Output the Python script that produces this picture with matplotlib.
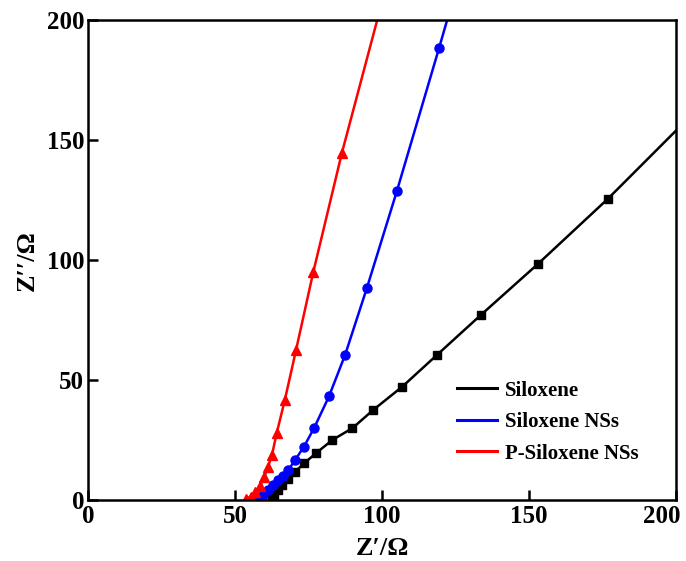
import numpy as np
import matplotlib.pyplot as plt
import matplotlib.transforms as mtransforms

plt.rcParams['font.family'] = ['Liberation Serif', 'DejaVu Serif']
plt.rcParams['font.weight'] = 'bold'

# Nyquist data (Z' vs Z'') for the three samples
silox_x = [62.5, 63.3, 64.5, 65.8, 67.9, 70.4, 73.5, 77.5, 83.1, 89.9, 97.0,
           106.9, 118.7, 133.7, 153.0, 176.8, 205.0]
silox_y = [0.6, 2.3, 4.4, 6.5, 9.0, 12.0, 15.5, 19.7, 25.2, 30.1, 37.7,
           47.4, 60.6, 77.3, 98.4, 125.5, 160.0]

ns_x = [58.1, 59.6, 61.3, 63.0, 64.6, 66.3, 68.1, 70.4, 73.4, 76.9, 81.9,
        87.4, 94.8, 105.0, 119.4, 124.5]
ns_y = [0.6, 2.3, 4.4, 6.5, 8.3, 10.2, 12.7, 16.9, 22.4, 30.3, 43.3,
        60.6, 88.4, 128.7, 188.4, 210.0]

p_x = [53.6, 55.2, 56.7, 58.3, 59.8, 61.2, 62.5, 64.1, 66.9, 70.7, 76.6,
       86.3, 100.5]
p_y = [0.5, 1.6, 3.5, 5.8, 9.6, 14.1, 19.0, 28.0, 42.0, 62.7, 95.3,
       144.7, 210.0]

ticks = [0, 50, 100, 150, 200]

fig = plt.figure(figsize=(6.86, 5.61), dpi=100)
ax = fig.add_axes([0.129, 0.108, 0.856, 0.856])

ax.plot(silox_x, silox_y, color='black', lw=1.8, marker='s', ms=6, label='Siloxene')
ax.plot(ns_x, ns_y, color='blue', lw=1.8, marker='o', ms=6.5, label='Siloxene NSs')
ax.plot(p_x, p_y, color='red', lw=1.8, marker='^', ms=7, label='P-Siloxene NSs')

ax.set_xlim(0, 200)
ax.set_ylim(0, 200)
ax.set_xticks(ticks)
ax.set_yticks(ticks)
ax.tick_params(direction='in', length=7, width=1.8, labelsize=18, pad=3)
for s in ax.spines.values():
    s.set_linewidth(1.8)

# pull the last x label back inside the figure
last = ax.get_xticklabels()[-1]
last.set_transform(last.get_transform() +
                   mtransforms.ScaledTranslation(-14 / 100, 0, fig.dpi_scale_trans))

ax.set_xlabel('Z\u2032/\u03a9', fontsize=19, fontweight='bold', labelpad=7)
ax.set_ylabel('Z\u2032\u2032/\u03a9', fontsize=19, fontweight='bold', labelpad=6)

leg = ax.legend(loc='upper left', bbox_to_anchor=(0.610, 0.271), frameon=False,
                borderpad=0, handlelength=1.9, handletextpad=0.4, labelspacing=0.55,
                prop={'weight': 'bold', 'size': 15})
for h in leg.get_lines():
    h.set_marker('')
    h.set_linewidth(2.2)

fig.savefig('out.png', dpi=100)
